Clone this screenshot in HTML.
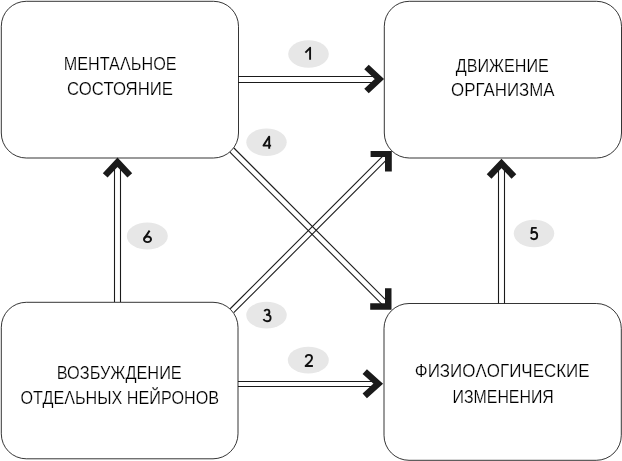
<!DOCTYPE html>
<html><head><meta charset="utf-8">
<style>
html,body{margin:0;padding:0;background:#fff;width:622px;height:461px;overflow:hidden}
svg{display:block;will-change:transform}
text{font-family:"Liberation Sans",sans-serif}
.t{font-size:18px;fill:#000;stroke:#fff;stroke-width:0.2px;paint-order:normal}
.n{font-size:18px;fill:#111;stroke:#111;stroke-width:0.5px}
</style></head><body>
<svg width="622" height="461" viewBox="0 0 622 461">
<g fill="none" stroke="#111" stroke-width="0.85">
<rect x="1.3" y="1.3" width="237.2" height="156.7" rx="25" ry="25"/>
<rect x="384.3" y="1.3" width="237.2" height="156.7" rx="25" ry="25"/>
<rect x="1.3" y="302.3" width="236.7" height="156.5" rx="25" ry="25"/>
<rect x="384" y="303.5" width="237.3" height="156.8" rx="25" ry="25"/>
</g>
<g fill="none" stroke="#1a1a1a" stroke-width="1.1">
<!-- arrow 1 -->
<line x1="238" y1="76.5" x2="377" y2="76.5"/>
<line x1="238" y1="82.5" x2="377" y2="82.5"/>
<!-- arrow 2 -->
<line x1="238" y1="381.5" x2="376" y2="381.5"/>
<line x1="238" y1="386.5" x2="376" y2="386.5"/>
<!-- arrow 6 -->
<line x1="114.5" y1="165" x2="114.5" y2="302"/>
<line x1="120.5" y1="165" x2="120.5" y2="302"/>
<!-- arrow 5 -->
<line x1="498.5" y1="166" x2="498.5" y2="303.5"/>
<line x1="504.5" y1="166" x2="504.5" y2="303.5"/>
<!-- arrow 4 -->
<line x1="229.9" y1="152.2" x2="382" y2="304.3"/>
<line x1="233.9" y1="148" x2="387" y2="301.1"/>
<!-- arrow 3 -->
<line x1="230.2" y1="308.75" x2="383" y2="155.95"/>
<line x1="233.75" y1="312.7" x2="387" y2="159.45"/>
</g>
<g fill="none" stroke="#1a1a1a" stroke-width="6.5" stroke-linejoin="miter" stroke-miterlimit="10">
<polyline points="366.5,67 379.3,79 366.5,91"/>
<polyline points="364.75,371.6 378.2,383.7 364.75,395.8"/>
<polyline points="105.2,175.4 117.5,162.2 129.8,175.4"/>
<polyline points="489.1,176.5 501.5,163.4 513.9,176.5"/>
</g>
<g fill="#1a1a1a">
<path d="M385,288.2 H391.5 V309.8 H370.2 V303.2 H385 Z"/>
<path d="M370.6,151.1 H391.8 V171.5 H385 V157.1 H370.6 Z"/>
</g>
<g fill="#e7e7e7">
<ellipse cx="308.5" cy="54" rx="20.3" ry="13.7"/>
<ellipse cx="266.5" cy="142.2" rx="20.2" ry="13.8"/>
<ellipse cx="147.3" cy="236" rx="20.5" ry="13.6"/>
<ellipse cx="266.5" cy="315.1" rx="20.25" ry="13.4"/>
<ellipse cx="308.3" cy="360.1" rx="20.5" ry="13.4"/>
<ellipse cx="534" cy="233.5" rx="20.25" ry="13.7"/>
</g>
<g fill="none" stroke="#111" stroke-width="1.9" stroke-linejoin="round">
<path d="M305.4,52.6 L310.1,47.8 V59.8"/>
<path d="M269.2,148.8 V136.6 L263.5,145.6 H271.1"/>
<path d="M149.6,230.6 L144.4,238.4"/><ellipse cx="147.5" cy="239.3" rx="3.55" ry="2.85"/>
<path d="M264.4,311.4 C264.8,310.3 265.7,309.6 266.9,309.6 C268.4,309.6 269.4,310.6 269.4,312 C269.4,313.7 268.2,314.7 266.8,314.8 C268.8,314.9 270.6,315.9 270.6,317.9 C270.6,320 269,321.2 267,321.2 C265.4,321.2 264.1,320.4 263.5,319"/>
<path d="M305.8,357.6 C305.8,355.8 307.2,354.9 308.8,354.9 C310.6,354.9 312,356.1 312,358 C312,359.6 311,360.6 309.8,361.8 L305.6,366 H312.9"/>
<path d="M536.7,227.9 H532 L531.4,233 C532.2,232.3 533,232 534,232 C535.9,232 537.2,233.5 537.2,235.6 C537.2,237.8 535.8,239.2 533.9,239.2 C532.5,239.2 531.3,238.5 530.7,237.3"/>
</g>
<g class="t" text-anchor="middle">
<text x="120.15" y="70" textLength="112.90" lengthAdjust="spacingAndGlyphs">МЕНТАΛЬНОЕ</text>
<text x="120.05" y="95" textLength="105.90" lengthAdjust="spacingAndGlyphs">СОСТОЯНИЕ</text>
<text x="502.30" y="71.7" textLength="93.00" lengthAdjust="spacingAndGlyphs">ДВИЖЕНИЕ</text>
<text x="502.80" y="96.3" textLength="103.60" lengthAdjust="spacingAndGlyphs">ОРГАНИЗМА</text>
<text x="119.25" y="378.6" textLength="125.00" lengthAdjust="spacingAndGlyphs">ВОЗБУЖДЕНИЕ</text>
<text x="119.78" y="403.7" textLength="198.45" lengthAdjust="spacingAndGlyphs">ОТДЕΛЬНЫХ НЕЙРОНОВ</text>
<text x="502.20" y="376.7" textLength="174.80" lengthAdjust="spacingAndGlyphs">ФИЗИОΛОГИЧЕСКИЕ</text>
<text x="503.20" y="402.7" textLength="101.20" lengthAdjust="spacingAndGlyphs">ИЗМЕНЕНИЯ</text>
</g>
</svg>
</body></html>
